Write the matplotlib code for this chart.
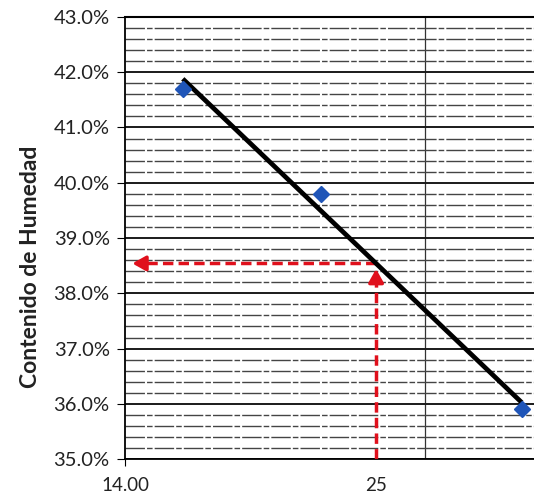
import matplotlib.pyplot as plt
import matplotlib.ticker as mticker
import numpy as np

# golpes vs contenido de humedad (%)
golpes = [16, 22, 35]
humedad = [41.7, 39.8, 35.9]
n_ref = 25
xtick_vals = [14, 25]
xtick_labels = ["14.00", "25"]

plt.rcParams['font.family'] = ['Lato', 'DejaVu Sans']

# recta de ajuste en escala semilog
m, b = np.polyfit(np.log10(golpes), humedad, 1)
xf = np.array([golpes[0], golpes[-1]])
yf = m * np.log10(xf) + b
ll = m * np.log10(n_ref) + b

fig = plt.figure(figsize=(5.34, 4.98), dpi=100)
ax = fig.add_axes([0.234, 0.078, 0.766, 0.888])
ax.set_xscale('log')
ax.set_xlim(14, 36)
ax.set_ylim(35, 43)

ax.yaxis.set_major_locator(mticker.MultipleLocator(1))
ax.yaxis.set_minor_locator(mticker.MultipleLocator(0.2))
ax.yaxis.set_major_formatter(mticker.FuncFormatter(lambda v, p: f"{v:.1f}%"))
ax.xaxis.set_major_locator(mticker.FixedLocator(xtick_vals))
ax.xaxis.set_major_formatter(mticker.FixedFormatter(xtick_labels))
ax.xaxis.set_minor_locator(mticker.NullLocator())

ax.grid(axis='y', which='major', color='#1a1a1a', lw=1.4)
ax.grid(axis='y', which='minor', color='#444444', lw=1.0, linestyle=(0, (14, 1.5, 4, 1.5)))
ax.axvline(28, color='#333333', lw=0.9, zorder=1)

ax.tick_params(axis='y', which='major', length=6, labelsize=14.5, pad=5, labelcolor='#222222')
ax.tick_params(axis='y', which='minor', length=0)
ax.tick_params(axis='x', length=5, labelsize=13.5, pad=8, labelcolor='#222222')
ax.xaxis.get_ticklines()[2].set_visible(False)
ax.xaxis.get_ticklines()[3].set_visible(False)

ax.spines['right'].set_visible(False)
ax.spines['left'].set_linewidth(1.3)
ax.spines['bottom'].set_linewidth(1.3)
ax.spines['top'].set_linewidth(1.5)

ax.set_ylabel("Contenido de Humedad", fontsize=16.5, fontweight='bold', color='#222222')
ax.yaxis.set_label_coords(-0.205, 0.435)

# lineas de lectura
ax.plot([n_ref, n_ref], [35, ll - 0.25], color='#e0101c', lw=2.5, linestyle=(0, (3, 1.5)), zorder=4)
ax.plot([n_ref, 14.6], [ll, ll], color='#e0101c', lw=2.5, linestyle=(0, (3, 1.5)), zorder=4)
ax.annotate("", xy=(n_ref, ll - 0.05), xytext=(n_ref, ll - 0.35),
            arrowprops=dict(arrowstyle='-|>,head_length=0.8,head_width=0.45', color='#e0101c', lw=2.5), zorder=5)
ax.annotate("", xy=(14.15, ll), xytext=(14.8, ll),
            arrowprops=dict(arrowstyle='-|>,head_length=0.8,head_width=0.45', color='#e0101c', lw=2.5), zorder=5)

ax.plot(xf, yf, color='black', lw=3.4, zorder=6, solid_capstyle='butt')
ax.plot(golpes, humedad, linestyle='none', marker='D', color='#1f55b8', markersize=8, zorder=7, clip_on=False)

fig.savefig("out.png", dpi=100)
